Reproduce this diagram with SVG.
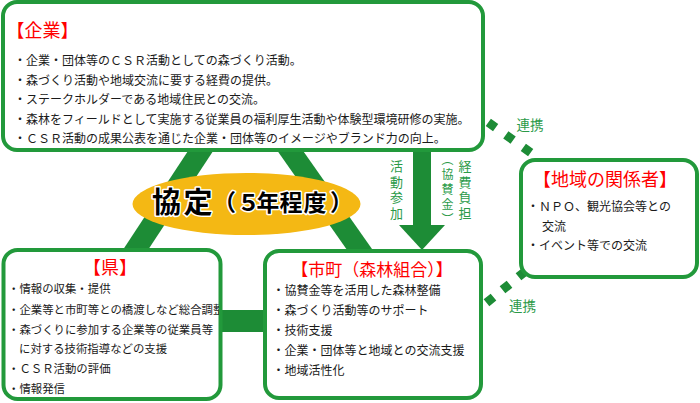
<svg xmlns="http://www.w3.org/2000/svg" width="700" height="403" viewBox="0 0 700 403">
<defs>
<style>
.box{fill:#fff;stroke:#22993b;stroke-width:4}
.ln{stroke:#1d8c36;fill:none}
.dot{stroke:#1d8c36;stroke-width:9;fill:none}
.t{font-family:"Noto Sans CJK JP","Noto Sans CJK SC",sans-serif;fill:#1a1a1a;font-size:12px}
.ts{font-size:11.4px}
.ttl{font-family:"Noto Sans CJK JP","Noto Sans CJK SC",sans-serif;fill:#ff0000;text-anchor:middle}
.gl{font-family:"Noto Sans CJK JP","Noto Sans CJK SC",sans-serif;fill:#2b9a48;font-size:13px;text-anchor:middle}
.vt{font-family:"Noto Sans CJK JP","Noto Sans CJK SC",sans-serif;fill:#2b9a48;writing-mode:vertical-rl}
.big{font-family:"Noto Sans CJK JP","Noto Sans CJK SC",sans-serif;font-weight:bold;fill:#000;stroke:#fff;stroke-width:3;paint-order:stroke;stroke-linejoin:round}
</style>
<clipPath id="clipL"><rect x="5" y="252" width="214" height="145"/></clipPath>
</defs>
<rect width="700" height="403" fill="#fff"/>

<g id="connectors">
  <line class="ln" x1="244" y1="85" x2="102.5" y2="300" stroke-width="21"/>
  <line class="ln" x1="244" y1="85" x2="395" y2="300" stroke-width="21"/>
  <rect x="219" y="310" width="48" height="22" fill="#1d8c36"/>
  <rect x="413" y="148" width="18" height="79" fill="#1d8c36"/>
  <polygon points="399,225 445,225 422,250" fill="#1d8c36"/>
  <line class="dot" x1="488.3" y1="122.4" x2="531" y2="152.8" stroke-dasharray="9 12.5"/>
  <line class="dot" x1="486.5" y1="302.8" x2="530" y2="267.5" stroke-dasharray="9 11.6"/>
  <text class="gl" x="530" y="130" style="font-size:13.5px">連携</text>
  <text class="gl" x="522.5" y="311" style="font-size:13.5px">連携</text>
  <text class="vt" x="396.5" y="160" style="font-size:13px;letter-spacing:2.5px">活動参加</text>
  <text class="vt" x="465" y="160" style="font-size:13px;letter-spacing:2.5px">経費負担</text>
  <text class="vt" x="447.5" y="153" style="font-size:12px;letter-spacing:3px">（協賛金）</text>
</g>

<g id="agreement">
  <ellipse cx="246.5" cy="204" rx="114" ry="31" fill="#f4b814"/>
  <text class="big" x="152 183.5" y="213" style="font-size:29px">協定</text>
  <text class="big" x="213 237 256.5 279.5 303.5 330" y="210.5" style="font-size:23px">（５年程度）</text>
</g>

<g id="company">
  <rect class="box" x="3" y="2" width="480" height="148" rx="14"/>
  <text class="ttl" x="42.5" y="37" style="font-size:18px">【企業】</text>
  <text class="t" x="14" y="65">・企業・団体等のＣＳＲ活動としての森づくり活動。</text>
  <text class="t" x="14" y="84.5">・森づくり活動や地域交流に要する経費の提供。</text>
  <text class="t" x="14" y="104">・ステークホルダーである地域住民との交流。</text>
  <text class="t" x="14" y="123.5">・森林をフィールドとして実施する従業員の福利厚生活動や体験型環境研修の実施。</text>
  <text class="t" x="14" y="143">・ＣＳＲ活動の成果公表を通じた企業・団体等のイメージやブランド力の向上。</text>
</g>

<g id="prefecture">
  <rect class="box" x="3.5" y="250" width="217" height="149" rx="14"/>
  <text class="ttl" x="110" y="274" style="font-size:18px">【県】</text>
  <g clip-path="url(#clipL)">
    <text class="t ts" x="8" y="292.7">・情報の収集・提供</text>
    <text class="t ts" x="8" y="313.7">・企業等と市町等との橋渡しなど総合調整</text>
    <text class="t ts" x="8" y="333.7">・森づくりに参加する企業等の従業員等</text>
    <text class="t ts" x="19" y="353.4">に対する技術指導などの支援</text>
    <text class="t ts" x="8" y="373.4">・ＣＳＲ活動の評価</text>
    <text class="t ts" x="8" y="392.7">・情報発信</text>
  </g>
</g>

<g id="municipality">
  <rect class="box" x="265" y="251" width="216" height="147" rx="14"/>
  <text class="ttl" x="372" y="276" style="font-size:17px">【市町（森林組合）】</text>
  <text class="t" x="272.5" y="295.2">・協賛金等を活用した森林整備</text>
  <text class="t" x="272.5" y="315.2">・森づくり活動等のサポート</text>
  <text class="t" x="272.5" y="335.2">・技術支援</text>
  <text class="t" x="272.5" y="355.2">・企業・団体等と地域との交流支援</text>
  <text class="t" x="272.5" y="374.6">・地域活性化</text>
</g>

<g id="local">
  <rect class="box" x="521" y="160" width="176" height="117" rx="14"/>
  <text class="ttl" x="605" y="186" style="font-size:18px">【地域の関係者】</text>
  <text class="t" x="527" y="210.5">・ＮＰＯ、観光協会等との</text>
  <text class="t" x="542" y="230.5">交流</text>
  <text class="t" x="527" y="249.7">・イベント等での交流</text>
</g>
</svg>
